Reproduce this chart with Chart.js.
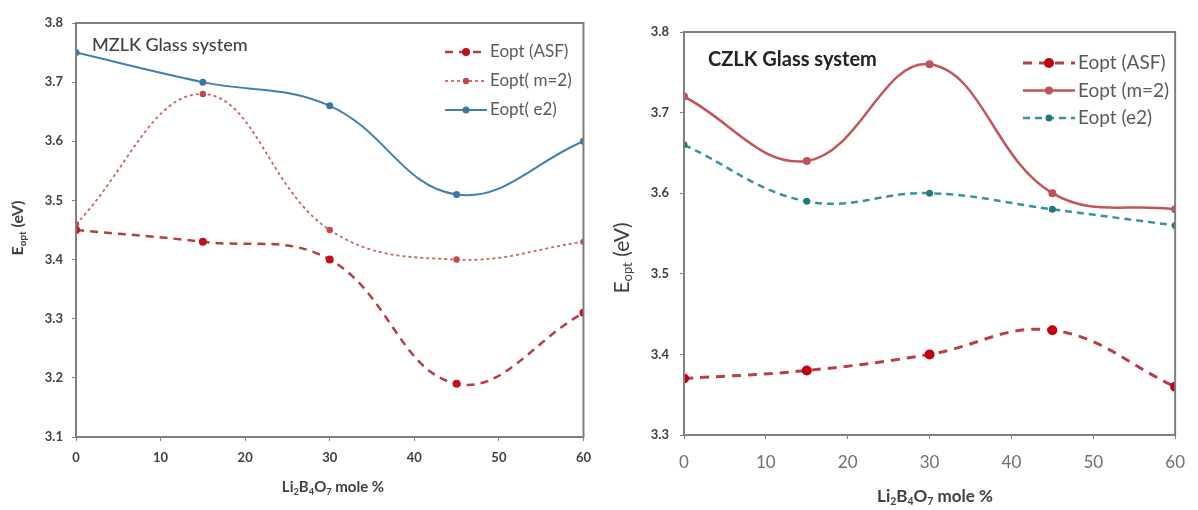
<!DOCTYPE html>
<html>
<head>
<meta charset="utf-8">
<script src="https://cdn.jsdelivr.net/npm/chart.js@4.4.1/dist/chart.umd.min.js"></script>
<style>
  html, body { margin: 0; padding: 0; background: #fff; }
  #wrap { position: relative; width: 1198px; height: 510px; }
  .box { position: absolute; top: 0; height: 510px; }
</style>
</head>
<body>
<div id="wrap">
  <div class="box" style="left:0;width:600px"><canvas id="mzlk"></canvas></div>
  <div class="box" style="left:600px;width:598px"><canvas id="czlk"></canvas></div>
</div>
<script>
// Li2B4O7 content (mole %)
const moleX = [0, 15, 30, 45, 60];

// MZLK glass system
const mzlkASF = [3.45, 3.43, 3.40, 3.19, 3.31];
const mzlkM2 = [3.46, 3.68, 3.45, 3.40, 3.43];
const mzlkE2 = [3.75, 3.70, 3.66, 3.51, 3.60];
const mzlkLabels = ["Eopt (ASF)", "Eopt( m=2)", "Eopt( e2)"];

// CZLK glass system
const czlkASF = [3.37, 3.38, 3.40, 3.43, 3.36];
const czlkM2 = [3.72, 3.64, 3.76, 3.60, 3.58];
const czlkE2 = [3.66, 3.59, 3.60, 3.58, 3.56];
const czlkLabels = ["Eopt (ASF)", "Eopt (m=2)", "Eopt (e2)"];

const FONT = "Lato, 'Open Sans', sans-serif";
const AXIS = "#7f7f7f";

function pts(ys) {
  return moleX.map((x, i) => ({ x: x, y: ys[i] }));
}

// text with subscript parts, e.g. [["E"],["opt",1],[" (eV)"]]
function richWidth(ctx, parts, size, weight) {
  let w = 0;
  parts.forEach(p => {
    ctx.font = weight + " " + (p[1] ? size * 0.62 : size) + "px " + FONT;
    w += ctx.measureText(p[0]).width;
  });
  return w;
}
function drawRich(ctx, parts, x, y, size, weight, color) {
  let w = richWidth(ctx, parts, size, weight);
  let cx = x - w / 2;
  ctx.fillStyle = color;
  ctx.textBaseline = "middle";
  ctx.textAlign = "left";
  parts.forEach(p => {
    let s = p[1] ? size * 0.62 : size;
    ctx.font = weight + " " + s + "px " + FONT;
    ctx.fillText(p[0], cx, p[1] ? y + size * 0.3 : y);
    cx += ctx.measureText(p[0]).width;
  });
}

const deco = {
  id: "deco",
  afterDraw(chart, args, o) {
    const ctx = chart.ctx;
    const a = chart.chartArea;
    ctx.save();
    // plot frame
    ctx.strokeStyle = AXIS;
    ctx.lineWidth = 2;
    ctx.strokeRect(a.left, a.top, a.right - a.left, a.bottom - a.top);

    // title inside plot
    ctx.fillStyle = o.titleColor;
    ctx.font = o.titleWeight + " " + o.titleSize + "px " + FONT;
    ctx.textAlign = "left";
    ctx.textBaseline = "middle";
    ctx.fillText(o.title, o.titleX, o.titleY);

    // legend
    chart.data.datasets.forEach((ds, i) => {
      const y = o.legY + i * o.legGap;
      ctx.save();
      ctx.strokeStyle = ds.borderColor;
      ctx.lineWidth = ds.borderWidth;
      ctx.setLineDash(ds.borderDash || []);
      ctx.beginPath();
      ctx.moveTo(o.legX0, y);
      ctx.lineTo(o.legX1, y);
      ctx.stroke();
      ctx.setLineDash([]);
      ctx.fillStyle = ds.pointBackgroundColor;
      ctx.beginPath();
      ctx.arc((o.legX0 + o.legX1) / 2, y, ds.pointRadius, 0, Math.PI * 2);
      ctx.fill();
      ctx.restore();
      ctx.fillStyle = "#595959";
      ctx.font = "normal " + o.legSize + "px " + FONT;
      ctx.textAlign = "left";
      ctx.textBaseline = "middle";
      ctx.fillText(ds.label, o.legX1 + 3, y);
    });

    // y axis title (rotated)
    ctx.save();
    ctx.translate(o.yTitleX, o.yTitleY);
    ctx.rotate(-Math.PI / 2);
    drawRich(ctx, [["E"], ["opt", 1], [" (eV)"]], 0, 0, o.yTitleSize, o.yTitleWeight, "#404040");
    ctx.restore();

    // x axis title
    drawRich(ctx, [["Li"], ["2", 1], ["B"], ["4", 1], ["O"], ["7", 1], [" mole %"]],
      o.xTitleX, o.xTitleY, o.xTitleSize, o.xTitleWeight, "#404040");
    ctx.restore();
  }
};

function makeChart(id, sets, yMin, yMax, lay, tickFont, decoOpts) {
  return new Chart(document.getElementById(id), {
    type: "line",
    data: { datasets: sets },
    options: {
      responsive: true,
      maintainAspectRatio: false,
      animation: false,
      layout: { padding: { left: 0, top: lay.top, right: lay.right, bottom: 0 } },
      plugins: { legend: { display: false }, tooltip: { enabled: false }, deco: decoOpts },
      scales: {
        x: {
          type: "linear",
          min: 0, max: 60,
          ticks: { stepSize: 10, padding: lay.xPad, color: tickFont.xColor,
                   font: { family: FONT, size: tickFont.xSize, weight: tickFont.xWeight } },
          grid: { display: true, drawOnChartArea: false, drawTicks: true, tickLength: 4, color: AXIS },
          border: { display: true, color: AXIS, width: 2 },
          afterFit(s) { s.height = lay.xH; }
        },
        y: {
          min: yMin, max: yMax,
          ticks: { stepSize: 0.1, padding: lay.yPad, color: "#404040",
                   font: { family: FONT, size: tickFont.ySize, weight: "bold" },
                   callback: v => v.toFixed(1) },
          grid: { display: true, drawOnChartArea: false, drawTicks: true, tickLength: 4, color: AXIS },
          border: { display: true, color: AXIS, width: 2 },
          afterFit(s) { s.width = lay.yW; }
        }
      }
    },
    plugins: [deco]
  });
}

makeChart("mzlk", [
  { label: mzlkLabels[0], data: pts(mzlkASF), borderColor: "#b83c44", borderWidth: 2.5,
    borderDash: [8, 6], pointRadius: 4, pointBackgroundColor: "#c0121e", pointBorderWidth: 0, tension: 0.4 },
  { label: mzlkLabels[1], data: pts(mzlkM2), borderColor: "#d0605c", borderWidth: 1.8,
    borderDash: [3, 3], pointRadius: 3.2, pointBackgroundColor: "#c8474a", pointBorderWidth: 0, tension: 0.4 },
  { label: mzlkLabels[2], data: pts(mzlkE2), borderColor: "#3f7fb3", borderWidth: 2,
    pointRadius: 3.5, pointBackgroundColor: "#3a74a8", pointBorderWidth: 0, tension: 0.4 }
], 3.1, 3.8,
  { top: 23, right: 10, xH: 73, yW: 76, xPad: 9, yPad: 9 },
  { xSize: 13, xWeight: "bold", xColor: "#404040", ySize: 13 },
  { title: "MZLK Glass system", titleX: 92, titleY: 45, titleSize: 18, titleWeight: "500", titleColor: "#404040",
    legX0: 445, legX1: 487, legY: 52, legGap: 29, legSize: 17,
    yTitleX: 18, yTitleY: 228, yTitleSize: 16, yTitleWeight: "bold",
    xTitleX: 333, xTitleY: 487, xTitleSize: 15, xTitleWeight: "bold" });

makeChart("czlk", [
  { label: czlkLabels[0], data: pts(czlkASF), borderColor: "#b5404a", borderWidth: 3,
    borderDash: [9, 7], pointRadius: 5, pointBackgroundColor: "#c00014", pointBorderWidth: 0, tension: 0.4 },
  { label: czlkLabels[1], data: pts(czlkM2), borderColor: "#c0555a", borderWidth: 2.5,
    pointRadius: 4, pointBackgroundColor: "#c0505a", pointBorderWidth: 0, tension: 0.4 },
  { label: czlkLabels[2], data: pts(czlkE2), borderColor: "#3a8fa6", borderWidth: 2.5,
    borderDash: [7, 5], pointRadius: 3.5, pointBackgroundColor: "#23787f", pointBorderWidth: 0, tension: 0.4 }
], 3.3, 3.8,
  { top: 32, right: 14, xH: 75, yW: 84, xPad: 13, yPad: 11 },
  { xSize: 17, xWeight: "normal", xColor: "#6f6f6f", ySize: 13 },
  { title: "CZLK Glass system", titleX: 108, titleY: 60, titleSize: 20, titleWeight: "bold", titleColor: "#222222",
    legX0: 423, legX1: 475, legY: 63, legGap: 27.5, legSize: 19,
    yTitleX: 22, yTitleY: 258, yTitleSize: 21, yTitleWeight: "normal",
    xTitleX: 335, xTitleY: 497, xTitleSize: 17, xTitleWeight: "bold" });
</script>
</body>
</html>
